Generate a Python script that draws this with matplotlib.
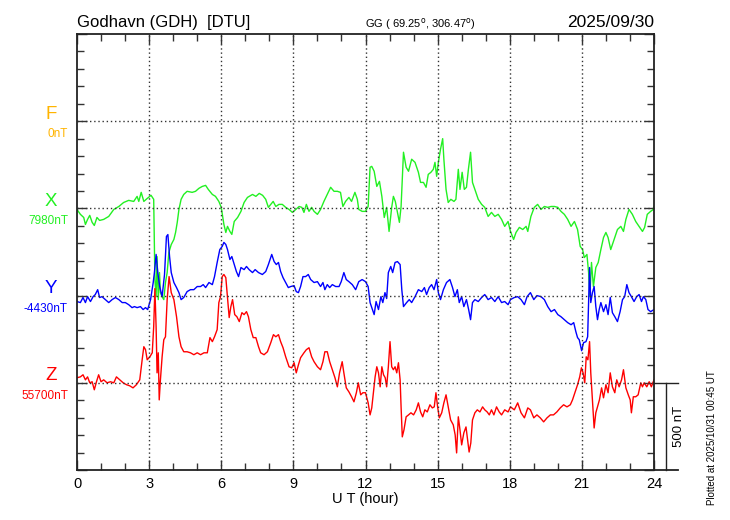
import matplotlib
matplotlib.use('Agg')
import matplotlib.pyplot as plt
import numpy as np

plt.rcParams['font.family'] = ['Liberation Sans', 'DejaVu Sans']

# hours (UT) and deviations (nT) from the base values printed on the left
x_hours = [0, 0.14, 0.28, 0.35, 0.44, 0.53, 0.63, 0.72, 0.83, 0.94, 1.11, 1.32, 1.53, 1.74, 1.94, 2.15, 2.36, 2.5,
           2.57, 2.67, 2.78, 2.92, 3.08, 3.19, 3.24, 3.29, 3.33, 3.38, 3.43, 3.47, 3.54, 3.61, 3.68, 3.75, 3.82, 3.92,
           4.03, 4.1, 4.17, 4.24, 4.33, 4.44, 4.58, 4.79, 4.93, 5.07, 5.21, 5.35, 5.46, 5.63, 5.76, 5.9, 6.0, 6.11,
           6.19, 6.26, 6.36, 6.44, 6.54, 6.68, 6.82, 6.95, 7.09, 7.3, 7.44, 7.58, 7.72, 7.85, 7.96, 8.06, 8.16, 8.27,
           8.4, 8.54, 8.68, 8.82, 8.96, 9.1, 9.24, 9.35, 9.44, 9.54, 9.65, 9.76, 9.86, 10.0, 10.13, 10.27, 10.41,
           10.55, 10.69, 10.83, 10.96, 11.06, 11.17, 11.31, 11.42, 11.56, 11.66, 11.72, 11.86, 12.0, 12.11,
           12.19, 12.26, 12.36, 12.47, 12.58, 12.68, 12.78, 12.88, 12.98, 13.09, 13.16, 13.24, 13.33, 13.41, 13.48,
           13.58, 13.69, 13.79, 13.92, 14.06, 14.2, 14.29, 14.41, 14.52, 14.61, 14.72, 14.82, 14.89, 14.96, 15.03,
           15.12, 15.21, 15.26, 15.35, 15.44, 15.55, 15.68, 15.76, 15.86, 15.93, 16.02, 16.11, 16.2, 16.28, 16.37,
           16.45, 16.55, 16.69, 16.83, 16.96, 17.1, 17.24, 17.38, 17.52, 17.66, 17.79, 17.93, 18.03,
           18.16, 18.26, 18.4, 18.54, 18.68, 18.75, 18.88, 19.02, 19.16, 19.3, 19.44, 19.58, 19.72, 19.86, 20.0,
           20.13, 20.27, 20.41, 20.55, 20.69, 20.82, 20.93, 21.03, 21.1, 21.21, 21.28, 21.33, 21.4, 21.48, 21.58,
           21.68, 21.79, 21.9, 22.0, 22.09, 22.2, 22.34, 22.48, 22.62, 22.73, 22.83, 22.96, 23.1, 23.24, 23.38,
           23.52, 23.61, 23.72, 23.86, 23.97, 24.0]
x_dev = [-6, -34, -52, -92, -63, -40, -80, -98, -52, -69, -63, -46, -6, 11, 34, 46, 40, 69,
         40, 92, 40, 57, 75, 52, -408, -506, -276, -523, -368, -483, -506, -523, -425, -368, -253, -207,
         -178, -138, -80, -6, 52, 80, 98, 92, 98, 115, 126, 132, 109, 80, 69, 40, 6, -92,
         -138, -103, -132, -149, -75, -52, -17, 34, 63, 80, 69, 86, 75, 52, 6, 23, 40, 11,
         23, 23, 6, -6, -23, -6, 11, 6, -23, 23, -17, 6, -17, -34, -6, 40, 80,
         121, 98, 98, 92, 11, 40, 63, 40, 92, 52, -6, -17, -17, 11,
         236, 241, 213, 126, 155, 69, -52, 6, -132, 6, 69, 40, -23, -80, 11,
         322, 236, 213, 282, 264, 207, 149, 149, 121, 195, 207, 224, 264, 184, 264,
         339, 400, 282, 109, 34, 52, 40, 52, 224, 109, 207, 109, 121, 224, 322,
         149, 109, 52, 23, 6, -46, -23, -46, -34, -63, -103, -75, -132,
         -178, -138, -109, -121, -103, -132, -46, 6, 23, -6, 11, 6, 11, 11, 6,
         -17, -34, -63, -103, -75, -121, -218, -236, -282, -264, -368, -506, -310, -448, -339,
         -310, -236, -167, -138, -167, -236, -178, -121, -103, -132, -63, -6, -34, -75, -103,
         -132, -109, -34, -17, -6, 11]

y_hours = [0, 0.14, 0.25, 0.35, 0.44, 0.56, 0.67, 0.76, 0.86, 0.94, 1.04, 1.18, 1.32, 1.46, 1.6, 1.74, 1.88, 2.01,
           2.15, 2.29, 2.39, 2.5, 2.64, 2.75, 2.85, 2.94, 3.06, 3.17, 3.22, 3.29, 3.36, 3.44, 3.54, 3.64, 3.72, 3.78,
           3.85, 3.92, 4.03, 4.14, 4.24, 4.33, 4.44, 4.58, 4.72, 4.86, 5.0, 5.14, 5.25, 5.35, 5.49, 5.63, 5.72, 5.83,
           5.94, 6.04, 6.11,
           6.19, 6.26, 6.36, 6.44, 6.54, 6.63, 6.72, 6.82, 6.95, 7.05, 7.16, 7.3, 7.41, 7.55, 7.71, 7.85, 7.96, 8.1,
           8.2, 8.29, 8.38, 8.47, 8.57, 8.68, 8.79, 8.89, 9.03, 9.12, 9.21, 9.3, 9.4, 9.51, 9.62, 9.72, 9.86, 10.0,
           10.13, 10.23, 10.31, 10.41, 10.51, 10.62, 10.76, 10.9, 10.99, 11.1, 11.2, 11.31, 11.45, 11.59, 11.72,
           11.86, 12.0, 12.11,
           12.19, 12.26, 12.36, 12.44, 12.54, 12.64, 12.72, 12.81, 12.88, 12.95, 13.05, 13.13, 13.23, 13.33, 13.44,
           13.51, 13.58, 13.71, 13.82, 13.92, 14.06, 14.2, 14.34, 14.45, 14.54, 14.65, 14.75, 14.85, 14.96, 15.03,
           15.12, 15.24, 15.37, 15.51, 15.62, 15.72, 15.82, 15.9, 16.0, 16.09, 16.2, 16.29, 16.37, 16.45, 16.55,
           16.69, 16.83, 16.96, 17.1, 17.24, 17.38, 17.52, 17.66, 17.79, 17.93, 18.03,
           18.19, 18.33, 18.47, 18.61, 18.72, 18.86, 19.0, 19.13, 19.3, 19.44, 19.58, 19.72, 19.86, 20.0, 20.13,
           20.27, 20.41, 20.55, 20.66, 20.75, 20.82, 20.89, 20.99, 21.07, 21.17, 21.24, 21.28, 21.32, 21.37, 21.44,
           21.51, 21.58, 21.65, 21.72, 21.79, 21.9, 22.0, 22.09, 22.18, 22.27, 22.37, 22.48, 22.59, 22.69, 22.78,
           22.87, 22.96, 23.06, 23.17, 23.28, 23.38, 23.48, 23.56, 23.66, 23.75, 23.86, 24.0]
y_dev = [-34, -40, -11, -40, -6, -34, -6, 6, 34, -11, -6, -23, -40, -23, -11, -23, -40, -40,
         -52, -69, -63, -69, -63, -80, -69, -80, -23, 75, 132, 236, 132, 52, -6, 121, 339, 350,
         224, 132, 75, 46, 17, -23, -11, 23, 34, 34, 52, 52, 63, 46, 75, 63, 109, 190,
         264, 282, 305,
         293, 264, 207, 224, 178, 138, 109, 161, 149, 167, 149, 132, 149, 132, 121, 138, 178, 236,
         195, 178, 190, 138, 103, 75, 46, 52, 57, 23, 17, 52, 109, 109, 121, 92, 75, 80,
         52, 75, 34, 63, 46, 63, 52, 52, 80, 132, 92, 80, 63, 34, 80,
         92, 80, 52,
         -40, -69, -109, -34, -80, -6, -40, 17, -17, 132, 167, 132, 190, 195, 178,
         34, -63, -40, -23, -40, -6, 34, 23, 46, 6, 46, 63, 34, 92, 17,
         -23, 34, 75, 92, 46, -6, 34, -40, -6, -63, -23, -80, -138, -40, -23,
         -34, -11, 6, -23, -11, -34, -6, -40, -34, -52, -23,
         -11, -6, -23, -52, -6, 17, -23, 0, -6, -23, -63, -92, -80, -109, -121,
         -138, -155, -167, -155, -207, -241, -253, -316, -270, -264, -236, -40, 161, -40, 17,
         52, -63, -138, -80, -40, -92, -52, -109, -11, -98, -121, -149, -92, -23, -6,
         63, 17, -6, -34, -6, 6, -34, -6, -23, -80, -92, -80]

z_hours = [0, 0.14, 0.25, 0.35, 0.44, 0.53, 0.63, 0.72, 0.81, 0.9, 1.0, 1.11, 1.25, 1.39, 1.53, 1.64, 1.78, 1.92,
           2.06, 2.19, 2.33, 2.47, 2.61, 2.71, 2.78, 2.85, 2.92, 3.03, 3.13, 3.19, 3.24, 3.29, 3.33, 3.38, 3.42, 3.47,
           3.54, 3.61, 3.68, 3.75, 3.83, 3.92, 4.03, 4.14, 4.24, 4.33, 4.44, 4.58, 4.72, 4.86, 5.0, 5.14, 5.28, 5.42,
           5.53, 5.63, 5.72, 5.83, 5.9, 5.97, 6.04, 6.11,
           6.19, 6.26, 6.33, 6.4, 6.47, 6.56, 6.65, 6.75, 6.86, 6.95, 7.05, 7.13, 7.23, 7.33, 7.44, 7.55, 7.64, 7.78,
           7.92, 8.06, 8.17, 8.27, 8.38, 8.47, 8.57, 8.68, 8.82, 8.93, 9.03, 9.12, 9.21, 9.3, 9.44, 9.54, 9.65, 9.76,
           9.86, 10.0, 10.13, 10.23, 10.31, 10.41, 10.51, 10.62, 10.73, 10.83, 10.92, 11.03, 11.1, 11.2, 11.31,
           11.42, 11.52, 11.62, 11.7, 11.8, 11.89, 12.0, 12.11,
           12.19, 12.26, 12.33, 12.4, 12.47, 12.54, 12.61, 12.68, 12.75, 12.82, 12.88, 12.95, 13.02, 13.09, 13.16,
           13.23, 13.3, 13.37, 13.44, 13.48, 13.53, 13.6, 13.69, 13.79, 13.89, 14.0, 14.11, 14.2, 14.29, 14.38,
           14.47, 14.57, 14.68, 14.78, 14.86, 14.93, 15.0, 15.07, 15.17, 15.26, 15.35, 15.44, 15.54, 15.65, 15.73,
           15.79, 15.86, 15.93, 16.0, 16.09, 16.18, 16.25, 16.31, 16.38, 16.45, 16.55, 16.65, 16.76, 16.87, 16.96,
           17.06, 17.15, 17.24, 17.34, 17.45, 17.56, 17.66, 17.79, 17.93, 18.03,
           18.19, 18.33, 18.47, 18.61, 18.75, 18.86, 19.0, 19.13, 19.27, 19.41, 19.55, 19.69, 19.82, 19.96, 20.1,
           20.24, 20.38, 20.52, 20.61, 20.71, 20.82, 20.91, 20.98, 21.05, 21.12, 21.18, 21.25, 21.32, 21.37, 21.44,
           21.51, 21.58, 21.65, 21.73, 21.82, 21.9, 22.0, 22.09, 22.18, 22.27, 22.37, 22.45, 22.55, 22.65, 22.73,
           22.83, 22.93, 23.01, 23.06, 23.14, 23.24, 23.34, 23.45, 23.52, 23.59, 23.7, 23.8, 23.89, 23.97, 24.0]
z_dev = [29, 34, 46, 17, 34, 0, 6, -40, 6, 46, 6, 17, 0, 6, 0, 34, 17, 0,
         -11, -17, -29, -11, 17, 132, 207, 190, 132, 149, 172, 322, 540, 322, 57, 172, -98, 17,
         149, 247, 264, 477, 609, 517, 477, 379, 264, 207, 178, 178, 172, 161, 172, 161, 172, 172,
         259, 236, 264, 305, 460, 494, 609, 621,
         603, 489, 374, 437, 477, 391, 379, 351, 402, 391, 408, 379, 305, 259, 259, 207, 172, 161,
         178, 230, 276, 264, 276, 236, 201, 149, 92, 86, 115, 57, 103, 144, 172, 190, 201, 149,
         121, 92, 75, 121, 178, 178, 121, 75, 29, -23, 57, 121, 57, -29, -52,
         -80, -109, -57, 0, -69, -57, -57, -115,
         -184, -144, -57, 34, 92, 57, -23, 92, 46, 29, -23, 92, 236, 92, 75,
         92, 57, 115, 17, -138, -310, -270, -195, -184, -172, -184, -155, -115, -167, -195,
         -155, -167, -126, -144, -138, -57, -138, -201, -172, -115, -69, -138, -213, -241, -299,
         -402, -195, -270, -356, -287, -253, -328, -397, -345, -213, -172, -155, -167, -138, -155,
         -167, -184, -155, -184, -138, -167, -184, -155, -167, -138,
         -155, -115, -172, -201, -144, -155, -201, -184, -201, -224, -201, -184, -184, -167, -144,
         -126, -138, -126, -98, -57, -11, 34, 86, 57, 0, 149, 132, 236, 57, -98,
         -259, -172, -138, -98, -29, -86, -11, -57, 57, -23, -57, 17, -23, 17, 75,
         -29, -69, -98, -172, -80, -80, -69, 0, -23, 0, -23, 6, -23, 6, 17]

components = ['F', 'X', 'Y', 'Z']
base_labels = ['0nT', '7980nT', '-4430nT', '55700nT']
comp_colors = ['#ffb400', '#22f022', '#0000ff', '#ff0000']
offsets = [1500, 1000, 500, 0]   # plot level of each component's base line

fig = plt.figure(figsize=(7.3, 5.2), dpi=100)
ax = fig.add_axes([77 / 730, 1 - 470 / 520, 577 / 730, 436 / 520])

ax.plot(x_hours, np.array(x_dev) + offsets[1], color=comp_colors[1], lw=1.0)
ax.plot(y_hours, np.array(y_dev) + offsets[2], color=comp_colors[2], lw=1.0)
ax.plot(z_hours, np.array(z_dev) + offsets[3], color=comp_colors[3], lw=1.0)

ax.set_xlim(0, 24)
ax.set_ylim(-500, 2000)

ax.set_xticks(range(0, 25, 3))
ax.set_xticks(range(0, 25), minor=True)
ax.set_yticks(range(-500, 2001, 500))
ax.set_yticks(range(-500, 2001, 100), minor=True)
ax.set_yticklabels([])
ax.tick_params(which='both', direction='in', top=True, right=True, width=1, color='#333333')
ax.tick_params(which='major', length=7, labelsize=10.5, pad=5)
ax.tick_params(which='minor', length=5)
for s in ax.spines.values():
    s.set_linewidth(1.3)
    s.set_color('#222222')

for h in range(3, 24, 3):
    ax.axvline(h, color='#333333', ls=(0, (1, 2)), lw=1.0)
for lev in offsets:
    ax.axhline(lev, color='#333333', ls=(0, (1, 2)), lw=1.0)

ax.set_xlabel('U T (hour)', fontsize=10.5, labelpad=1)

# component letters and base values on the left
for name, lab, col, lev in zip(components, base_labels, comp_colors, offsets):
    ax.annotate(name, (0, lev), xytext=(-26, 7), textcoords='offset pixels', xycoords=('axes fraction', 'data'),
                ha='center', va='center', fontsize=13.5, color=col, annotation_clip=False)
    ax.annotate(lab, (0, lev), xytext=(-9, -13), textcoords='offset pixels', xycoords=('axes fraction', 'data'),
                ha='right', va='center', fontsize=8.5, color=col, annotation_clip=False)

# 500 nT scale bar outside the right edge
ax.plot([24, 25], [0, 0], color='#222222', lw=1.0, clip_on=False)
ax.plot([24, 25], [-500, -500], color='#222222', lw=1.3, clip_on=False)
ax.plot([24.5, 24.5], [-500, 0], color='#222222', lw=1.0, clip_on=False)
ax.text(25.05, -250, '500 nT', rotation=90, ha='center', va='center', fontsize=9.5)

fig.text(77 / 730, 1 - 27 / 520, 'Godhavn (GDH)  [DTU]', fontsize=12, ha='left', va='baseline')
fig.text(365 / 730, 1 - 27 / 520, 'GG ( 69.25$^{\\mathrm{o}}$, 306.47$^{\\mathrm{o}}$)', fontsize=8,
         ha='left', va='baseline')
fig.text(654 / 730, 1 - 27 / 520, '2025/09/30', fontsize=12.5, ha='right', va='baseline')
fig.text(712 / 730, 1 - 505 / 520, 'Plotted at 2025/10/31 00:45 UT', rotation=90, fontsize=7,
         ha='center', va='bottom')

fig.savefig('out.png', dpi=100)
